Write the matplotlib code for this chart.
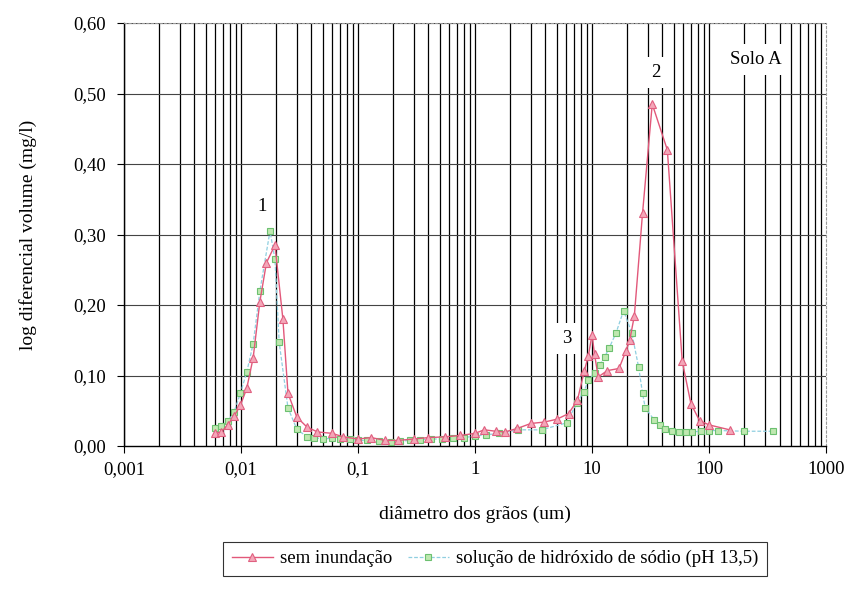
import matplotlib
matplotlib.use("Agg")
import matplotlib.pyplot as plt
from matplotlib.ticker import FixedLocator, FuncFormatter

plt.rcParams['font.family'] = ['Liberation Serif', 'DejaVu Serif']

# sem inundação (diâmetro em um, log diferencial volume)
x_sem = [0.0060, 0.0068, 0.0077, 0.0087, 0.0099, 0.0112, 0.0127, 0.0145, 0.0165, 0.0195,
         0.0228, 0.0252, 0.030, 0.0366, 0.045, 0.060, 0.075, 0.10, 0.13, 0.17,
         0.22, 0.30, 0.40, 0.55, 0.75, 1.0, 1.2, 1.5, 1.8, 2.3, 3.0, 3.9, 5.0,
         6.3, 7.5, 8.6, 9.3, 10.0, 10.5, 11.3, 13.5, 17.0, 19.5, 21.0, 23.0, 27.0, 32.7,
         44.0, 59.0, 70.0, 83.0, 100.0, 150.0]
y_sem = [0.018, 0.020, 0.030, 0.042, 0.058, 0.082, 0.125, 0.205, 0.260, 0.285,
         0.180, 0.075, 0.041, 0.027, 0.020, 0.018, 0.013, 0.010, 0.012, 0.008,
         0.008, 0.010, 0.012, 0.013, 0.015, 0.018, 0.023, 0.021, 0.020, 0.025, 0.032, 0.034, 0.038,
         0.046, 0.065, 0.107, 0.128, 0.158, 0.130, 0.098, 0.107, 0.110, 0.135, 0.150, 0.185, 0.330, 0.485,
         0.420, 0.120, 0.060, 0.036, 0.030, 0.023]

# solução de hidróxido de sódio (pH 13,5)
x_sol = [0.0060, 0.0068, 0.0077, 0.0087, 0.0099, 0.0112, 0.0127, 0.0145, 0.0177, 0.0195,
         0.0212, 0.0252, 0.030, 0.0366, 0.042, 0.050, 0.060, 0.070, 0.085, 0.10,
         0.12, 0.15, 0.19, 0.23, 0.28, 0.34, 0.42, 0.52, 0.65, 0.80, 1.0, 1.25,
         1.6, 2.35, 3.7, 6.1, 7.4, 8.5, 9.3, 10.5, 11.6, 12.8, 14.0, 16.0, 18.6,
         21.9, 25.0, 27.0, 28.5, 34.0, 38.0, 42.0, 48.0, 55.0, 63.0, 72.0, 85.0,
         100.0, 120.0, 200.0, 350.0]
y_sol = [0.025, 0.028, 0.035, 0.048, 0.075, 0.105, 0.145, 0.220, 0.305, 0.265,
         0.147, 0.054, 0.024, 0.013, 0.012, 0.010, 0.011, 0.010, 0.010, 0.008,
         0.008, 0.007, 0.006, 0.007, 0.008, 0.009, 0.010, 0.010, 0.011, 0.012, 0.014, 0.016,
         0.018, 0.023, 0.023, 0.033, 0.061, 0.077, 0.093, 0.103, 0.115, 0.126, 0.139, 0.160, 0.192,
         0.160, 0.112, 0.075, 0.054, 0.037, 0.030, 0.024, 0.021, 0.020, 0.020, 0.020, 0.021,
         0.022, 0.022, 0.021, 0.021]

x_ticks = [0.001, 0.01, 0.1, 1, 10, 100, 1000]
x_tick_labels = ['0,001', '0,01', '0,1', '1', '10', '100', '1000']
y_ticks = [0.0, 0.1, 0.2, 0.3, 0.4, 0.5, 0.6]

# peak labels: text, x, y
peak_labels = [('1', 0.0151, 0.340), ('2', 35.4, 0.530), ('3', 6.1, 0.153), ('Solo A', 250, 0.548)]

fig = plt.figure(figsize=(8.51, 5.90), dpi=100)
ax = fig.add_axes([0.1457, 0.244, 0.825, 0.717])
ax.set_xscale('log')
ax.set_xlim(0.001, 1000)
ax.set_ylim(0, 0.6)

# vertical grid at every decade and sub-decade step
for dec in range(-3, 3):
    for m in range(1, 10):
        ax.axvline(m * 10.0 ** dec, color='black', lw=0.9, zorder=1)
for yv in y_ticks[1:]:
    ax.axhline(yv, color='#444444', lw=0.8, zorder=1)

ax.plot(x_sem, y_sem, color='#e2587a', lw=1.0, marker='^', markersize=5.5,
        markerfacecolor='#f4a6b8', markeredgecolor='#e06080', markeredgewidth=0.8,
        label='sem inundação', zorder=4)
ax.plot(x_sol, y_sol, color='#8fcfe0', lw=0.9, linestyle=(0, (3, 1.5)), marker='s', markersize=5,
        markerfacecolor='#bfe8b0', markeredgecolor='#6cc070', markeredgewidth=0.8,
        label='solução de hidróxido de sódio (pH 13,5)', zorder=3)

for txt, xv, yv in peak_labels:
    ax.text(xv, yv, txt, fontsize=13.5, ha='center', va='center', zorder=5,
            bbox=dict(facecolor='white', edgecolor='none', pad=5))

ax.xaxis.set_major_locator(FixedLocator(x_ticks))
ax.xaxis.set_minor_locator(FixedLocator([]))
ax.set_xticklabels(x_tick_labels)
ax.yaxis.set_major_locator(FixedLocator(y_ticks))
ax.yaxis.set_major_formatter(FuncFormatter(lambda v, p: f'{v:.2f}'.replace('.', ',')))
ax.tick_params(axis='both', labelsize=13.5, direction='out', length=5, width=0.8, color='black')
ax.tick_params(axis='x', pad=6)
ax.tick_params(axis='y', pad=8)

for side in ('top', 'right'):
    ax.spines[side].set_color('#999999')
    ax.spines[side].set_linestyle((0, (2, 2)))
    ax.spines[side].set_linewidth(0.8)
for side in ('left', 'bottom'):
    ax.spines[side].set_color('black')
    ax.spines[side].set_linewidth(1.0)

ax.set_xlabel('diâmetro dos grãos (um)', fontsize=14, labelpad=20)
ax.set_ylabel('log diferencial volume (mg/l)', fontsize=14, labelpad=26)

leg = fig.legend(loc='center', bbox_to_anchor=(0.582, 0.053), ncol=2, fontsize=13.5,
                 frameon=True, fancybox=False, edgecolor='black', handlelength=2.2,
                 columnspacing=0.8, handletextpad=0.4, borderpad=0.45)
leg.get_frame().set_linewidth(0.8)

fig.savefig('out.png', dpi=100)
